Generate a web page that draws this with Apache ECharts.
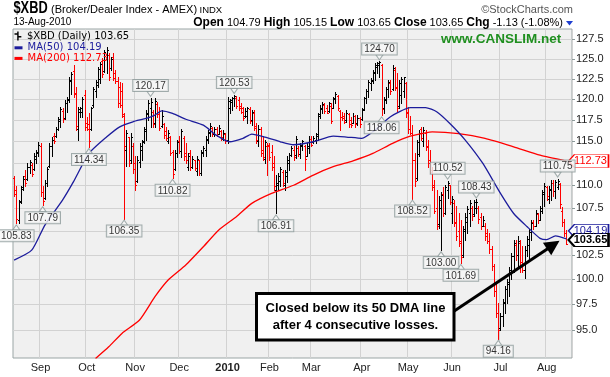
<!DOCTYPE html>
<html>
<head>
<meta charset="utf-8">
<script src="https://cdn.jsdelivr.net/npm/echarts@6.0.0/dist/echarts.min.js"></script>
<style>
  html, body { margin: 0; padding: 0; background: #fff; }
  #chart { width: 610px; height: 377px; }
</style>
</head>
<body>
<div id="chart"></div>
<script>
// $XBD daily bars, 14-Aug-2009 .. 13-Aug-2010
const opens = [
  110.8, 109.5, 106.2, 108.3, 109.8, 111.0, 110.7, 112.0, 112.3, 111.8,
  113.0, 113.6, 114.5, 109.3, 108.6, 110.2, 112.2, 114.4, 115.6, 115.6,
  116.4, 117.4, 118.6, 117.8, 119.5, 119.9, 122.2, 123.5, 120.8, 116.5,
  118.5, 118.5, 120.5, 117.2, 117.0, 116.5, 119.3, 121.0, 121.8, 122.5,
  124.8, 123.5, 125.0, 125.5, 123.8, 125.3, 123.2, 122.3, 121.5, 121.0,
  118.0, 114.0, 115.5, 112.8, 114.5, 112.5, 110.5, 112.6, 114.0, 115.0,
  116.2, 118.2, 119.0, 118.5, 117.2, 119.4, 118.5, 116.8, 117.0, 116.2,
  115.0, 115.5, 113.8, 111.8, 113.6, 115.0, 113.9, 115.4, 113.6, 112.0,
  113.6, 112.0, 112.8, 111.6, 112.8, 111.4, 113.6, 114.0, 115.2, 116.0,
  116.6, 115.8, 116.5, 115.9, 116.2, 115.3, 115.8, 115.2, 119.0, 119.7,
  120.1, 120.2, 119.9, 119.2, 118.9, 118.0, 118.0, 118.8, 117.5, 118.4,
  116.8, 115.0, 116.5, 114.0, 113.0, 114.4, 114.5, 113.8, 112.5, 109.5,
  110.0, 110.5, 111.5, 110.0, 111.0, 112.5, 113.4, 114.0, 113.4, 114.2,
  113.5, 114.5, 114.5, 113.3, 114.2, 115.3, 114.9, 115.2, 115.6, 118.2,
  118.8, 119.3, 118.9, 118.6, 119.2, 119.0, 120.1, 120.4, 118.6, 117.9,
  118.0, 117.5, 118.2, 117.5, 117.2, 118.0, 117.1, 117.7, 117.6, 118.8,
  120.2, 121.0, 122.0, 122.3, 123.2, 124.0, 124.2, 124.3, 118.9, 120.0,
  121.2, 122.0, 121.2, 123.6, 121.5, 119.2, 120.5, 121.0, 122.0, 118.5,
  116.5, 116.0, 112.8, 110.8, 113.5, 116.5, 115.0, 116.0, 114.5, 112.8,
  111.5, 110.0, 107.5, 105.8, 107.5, 109.0, 107.0, 109.5, 110.0, 107.0,
  108.0, 106.0, 105.0, 104.0, 102.5, 105.0, 106.0, 107.0, 107.5, 106.8,
  107.5, 107.5, 106.5, 105.6, 105.5, 104.8, 104.0, 103.1, 101.4, 98.8,
  96.7, 95.2, 96.4, 97.6, 99.0, 99.5, 101.0, 102.4, 103.5, 102.5,
  103.8, 101.8, 101.0, 103.0, 103.5, 104.9, 106.0, 105.5, 106.8, 106.2,
  107.2, 109.0, 109.8, 108.5, 109.5, 110.2, 109.4, 109.8, 110.1, 107.2,
  106.0, 104.79
];
const highs = [
  110.98, 109.87, 108.4, 109.87, 110.98, 111.73, 112.49, 112.87, 112.49, 113.63,
  114.0, 114.97, 114.78, 109.87, 110.6, 112.1, 114.8, 115.56, 115.95, 116.73,
  117.92, 119.1, 118.9, 119.9, 120.3, 122.78, 123.4, 124.2, 121.55, 119.1,
  119.1, 120.3, 121.14, 117.9, 118.3, 119.1, 121.55, 122.37, 124.0, 124.66,
  125.08, 126.14, 126.57, 125.7, 125.3, 125.7, 123.6, 122.78, 122.16, 121.96,
  118.3, 116.34, 115.56, 115.95, 114.78, 113.25, 113.25, 114.78, 115.17, 116.73,
  118.7, 119.9, 120.17, 118.7, 120.1, 119.7, 119.1, 118.7, 117.1, 116.7,
  116.3, 115.6, 114.0, 114.0, 115.2, 115.6, 116.5, 115.6, 114.8, 113.6,
  114.0, 113.25, 112.9, 113.25, 112.9, 114.0, 114.4, 115.6, 116.3, 117.1,
  116.7, 116.7, 116.7, 116.9, 116.3, 116.3, 115.95, 120.3, 120.0, 120.3,
  120.53, 120.4, 120.3, 119.5, 119.1, 118.9, 119.1, 119.1, 118.7, 118.7,
  117.1, 116.9, 116.7, 115.6, 115.2, 114.8, 114.8, 114.6, 113.25, 111.2,
  111.4, 112.1, 111.7, 111.7, 113.25, 113.6, 114.4, 114.4, 115.6, 114.4,
  114.8, 115.2, 114.6, 114.8, 115.6, 115.6, 115.6, 115.95, 118.3, 119.3,
  119.7, 119.5, 119.3, 119.7, 119.5, 120.3, 120.9, 120.5, 118.7, 118.5,
  118.3, 118.7, 118.3, 117.9, 118.3, 118.1, 118.1, 117.9, 118.9, 120.3,
  121.3, 122.4, 122.6, 123.6, 124.45, 124.66, 124.70, 124.4, 120.3, 121.55,
  122.37, 122.37, 124.2, 124.0, 123.2, 122.4, 122.8, 122.8, 122.16, 119.1,
  118.0, 116.9, 113.6, 115.2, 116.3, 116.7, 116.7, 116.3, 115.2, 114.0,
  112.1, 110.6, 109.5, 108.8, 109.2, 109.8, 110.0, 110.52, 110.0, 108.8,
  108.4, 107.7, 106.9, 106.2, 105.5, 106.9, 107.7, 108.4, 107.7, 108.4,
  108.43, 107.7, 106.9, 106.6, 105.9, 105.2, 104.8, 103.4, 101.6, 99.5,
  97.6, 96.7, 98.0, 99.3, 100.0, 101.3, 102.7, 104.1, 104.1, 104.45,
  104.1, 103.4, 103.4, 104.45, 105.2, 106.2, 106.2, 107.3, 106.9, 107.7,
  109.5, 110.2, 109.9, 109.9, 110.6, 110.6, 110.6, 110.75, 110.3, 107.6,
  106.3, 105.15
];
const lows = [
  108.76, 105.83, 105.9, 108.0, 109.5, 109.87, 110.6, 111.36, 110.98, 111.73,
  112.5, 113.25, 108.76, 107.79, 108.5, 109.9, 112.1, 113.25, 114.78, 115.5,
  116.34, 116.73, 117.32, 117.6, 118.5, 119.7, 120.7, 120.3, 116.34, 115.17,
  117.9, 117.9, 116.34, 116.34, 114.34, 116.34, 119.1, 120.3, 121.55, 121.96,
  122.78, 123.3, 123.2, 122.37, 123.6, 122.37, 121.96, 119.1, 119.1, 117.92,
  106.35, 112.11, 112.11, 112.49, 111.36, 109.5, 110.4, 112.1, 112.87, 114.78,
  115.17, 117.5, 116.73, 116.7, 116.7, 117.9, 116.3, 116.7, 115.4, 115.2,
  114.8, 113.4, 110.82, 111.7, 113.2, 113.6, 113.2, 112.9, 112.5, 111.7,
  111.7, 111.9, 111.7, 111.2, 111.2, 111.2, 113.25, 113.25, 114.8, 115.6,
  115.6, 115.6, 115.6, 115.8, 115.2, 115.2, 114.8, 114.8, 118.3, 118.7,
  119.2, 118.9, 118.7, 118.3, 117.5, 117.9, 117.1, 117.1, 116.9, 116.3,
  114.8, 114.4, 113.25, 112.9, 112.5, 111.2, 112.9, 111.7, 109.5, 106.91,
  109.5, 109.9, 109.9, 109.5, 110.4, 111.7, 113.25, 112.9, 113.1, 113.25,
  113.1, 114.0, 111.73, 113.25, 113.6, 114.4, 114.8, 114.8, 115.2, 117.7,
  118.3, 118.3, 118.3, 118.5, 117.1, 118.9, 119.5, 118.7, 116.3, 117.5,
  117.1, 117.3, 116.7, 116.7, 117.1, 116.7, 116.9, 116.7, 117.5, 118.7,
  119.5, 120.3, 121.1, 122.0, 122.4, 123.2, 122.8, 118.06, 118.3, 119.5,
  120.3, 120.7, 121.1, 121.1, 118.5, 119.0, 119.5, 120.3, 117.9, 116.0,
  115.8, 108.52, 109.87, 110.6, 113.25, 115.2, 114.4, 114.0, 112.1, 111.4,
  109.5, 106.9, 105.2, 105.3, 103.0, 106.6, 106.8, 108.6, 107.9, 105.9,
  105.5, 104.1, 103.4, 101.69, 102.3, 104.1, 104.8, 105.5, 106.2, 106.6,
  106.9, 105.9, 105.2, 105.5, 104.1, 103.75, 102.7, 101.0, 98.3, 96.3,
  94.16, 95.0, 95.4, 96.7, 97.6, 98.3, 100.0, 100.7, 102.0, 101.3,
  100.7, 100.7, 100.1, 102.4, 102.0, 104.1, 105.2, 105.5, 105.9, 106.2,
  106.95, 107.7, 108.4, 108.0, 108.4, 108.8, 108.6, 109.6, 107.5, 105.6,
  104.5, 103.65
];
const closes = [
  109.0, 106.3, 108.1, 109.6, 110.7, 110.2, 112.1, 112.6, 111.3, 113.3,
  113.8, 114.6, 109.2, 108.3, 110.3, 111.8, 114.5, 115.2, 115.0, 116.5,
  117.6, 118.8, 117.6, 119.6, 120.0, 122.4, 123.1, 120.6, 116.8, 118.8,
  119.0, 120.0, 116.7, 116.5, 115.0, 118.9, 121.3, 122.1, 123.7, 124.4,
  123.1, 125.9, 126.2, 122.7, 125.0, 122.6, 122.2, 119.5, 119.3, 118.2,
  114.5, 116.0, 112.5, 115.5, 111.8, 110.0, 112.8, 114.5, 114.9, 116.5,
  118.4, 119.6, 119.7, 117.0, 119.8, 118.2, 116.6, 118.0, 115.7, 115.4,
  116.0, 113.7, 111.3, 113.6, 114.9, 113.9, 116.2, 113.3, 112.8, 113.3,
  112.0, 113.0, 111.9, 113.0, 111.4, 113.8, 114.2, 115.3, 116.1, 116.8,
  115.8, 116.5, 115.9, 116.6, 115.5, 116.0, 115.0, 119.8, 119.9, 120.2,
  120.45, 119.2, 119.0, 118.5, 117.8, 118.6, 118.9, 117.4, 118.5, 116.6,
  115.1, 116.5, 113.6, 113.2, 114.9, 114.6, 113.2, 112.0, 109.9, 110.2,
  111.0, 111.8, 110.3, 111.5, 112.9, 113.4, 114.2, 113.2, 115.3, 113.5,
  114.6, 115.0, 113.0, 114.5, 115.3, 114.6, 115.4, 115.8, 118.0, 119.0,
  119.4, 118.6, 118.4, 119.5, 117.4, 120.0, 120.7, 119.0, 117.9, 117.7,
  117.3, 118.4, 117.0, 116.9, 118.0, 117.0, 117.8, 117.0, 118.7, 120.1,
  121.0, 122.1, 122.4, 123.3, 124.2, 124.5, 124.6, 118.8, 119.9, 121.3,
  122.1, 121.0, 123.8, 121.4, 118.9, 122.0, 122.5, 122.7, 118.4, 116.4,
  116.0, 112.9, 110.5, 114.9, 116.0, 115.4, 116.3, 114.3, 112.5, 111.7,
  109.8, 107.2, 105.6, 108.4, 108.9, 107.0, 109.8, 110.2, 108.1, 108.5,
  105.9, 104.5, 103.8, 102.3, 105.2, 106.5, 107.4, 108.0, 106.6, 108.1,
  108.2, 106.3, 105.6, 106.2, 104.5, 104.0, 103.1, 101.4, 98.8, 96.7,
  95.0, 96.4, 97.7, 99.0, 99.7, 101.0, 102.4, 103.8, 102.5, 104.0,
  101.5, 101.0, 103.0, 104.2, 104.9, 105.9, 105.5, 107.0, 106.2, 107.5,
  109.2, 109.9, 108.8, 109.6, 110.3, 109.4, 110.4, 110.5, 107.9, 106.0,
  104.78, 103.65
];

// moving averages as [bar index, value]
const ma50 = [
  [0, 101.97], [8, 103.0], [14, 105.65], [22, 108.36], [27, 110.4], [34, 113.6],
  [42, 115.5], [48, 116.7], [54, 117.3], [60, 117.7], [64, 118.1], [67, 118.6],
  [72, 118.3], [78, 117.6], [86, 116.9], [92, 115.7], [98, 114.95], [104, 115.35],
  [108, 115.85], [114, 115.5], [121, 114.95], [127, 114.6], [136, 114.95], [145, 115.6],
  [151, 115.5], [158, 115.35], [164, 116.3], [171, 117.9], [180, 118.98], [187, 119.0],
  [192, 118.5], [198, 117.1], [205, 115.15], [213, 112.45], [221, 109.1], [227, 106.9],
  [233, 105.5], [239, 104.24], [242, 104.1], [246, 104.5], [251, 104.19]
];
const ma200 = [
  [37, 92.3], [43, 93.4], [49, 94.68], [57, 95.97], [64, 98.26], [70, 99.93],
  [78, 101.46], [86, 103.36], [93, 105.13], [101, 106.55], [108, 108.0], [117, 109.1],
  [127, 110.0], [136, 111.14], [145, 112.08], [154, 112.75], [163, 113.6], [172, 114.76],
  [180, 115.6], [187, 116.0], [190, 116.1], [202, 115.9], [214, 115.35], [227, 114.37],
  [239, 113.4], [251, 112.73]
];

// swing high / low call-outs
const lowIdx = [1, 13, 34, 50, 72, 119, 167, 181, 194, 203, 220];
const lowVal = [105.83, 107.79, 114.34, 106.35, 110.82, 106.91, 118.06, 108.52, 103.00, 101.69, 94.16];
const highIdx = [62, 100, 166, 197, 210, 247];
const highVal = [120.17, 120.53, 124.70, 110.52, 108.43, 110.75];

const yTicks = [95, 97.5, 100, 102.5, 105, 107.5, 110, 112.5, 115, 117.5, 120, 122.5, 125, 127.5];
const monthNames = ['Jan', 'Feb', 'Mar', 'Apr', 'May', 'Jun', 'Jul', 'Aug', 'Sep', 'Oct', 'Nov', 'Dec'];
const marketHolidays = ['2009-09-07', '2009-11-26', '2009-12-25', '2010-01-01', '2010-01-18',
  '2010-02-15', '2010-04-02', '2010-05-31', '2010-07-05'];

const hdrOpen = 104.79, hdrHigh = 105.15, hdrLow = 103.65, hdrClose = 103.65;
const hdrChg = -1.13, hdrChgPct = -1.08;
const noteLines = ['Closed below its 50 DMA line', 'after 4 consecutive losses.'];

// trading calendar
const barDates = (function () {
  const out = [];
  const d = new Date(Date.UTC(2009, 7, 14));
  const end = Date.UTC(2010, 7, 13);
  while (d.getTime() <= end) {
    const wd = d.getUTCDay();
    const s = d.toISOString().slice(0, 10);
    if (wd !== 0 && wd !== 6 && marketHolidays.indexOf(s) < 0) out.push(s);
    d.setUTCDate(d.getUTCDate() + 1);
  }
  return out;
})();
const cats = barDates.concat([' ', '  ']); // small empty margin on the right

const monthStart = cats.map(function (c, i) {
  if (i === 0 || i >= barDates.length) return false;
  return c.slice(5, 7) !== cats[i - 1].slice(5, 7);
});

const lastClose = closes[closes.length - 1];
const ma50Last = ma50[ma50.length - 1][1];
const ma200Last = ma200[ma200.length - 1][1];
const nameXBD = '$XBD (Daily) ' + lastClose.toFixed(2);
const nameMA50 = 'MA(50) ' + ma50Last.toFixed(2);
const nameMA200 = 'MA(200) ' + ma200Last.toFixed(2);

const RED = '#ff0000', NAVY = '#1c1c9c';
const barColors = closes.map(function (c, i) {
  const ref = i === 0 ? opens[0] : closes[i - 1];
  return c < ref ? RED : '#000';
});
const ohlc = closes.map(function (c, i) { return [i, opens[i], highs[i], lows[i], c]; });

const chart = echarts.init(document.getElementById('chart'));

const calloutLabel = {
  show: true,
  formatter: function (p) { return p.value[1].toFixed(2); },
  fontFamily: 'Liberation Sans',
  fontSize: 10,
  color: '#000',
  backgroundColor: '#f8f8f8',
  borderColor: '#8c9a9a',
  borderWidth: 1,
  padding: [1, 2, 0, 2],
  distance: 0
};

const tagSymbol = 'path://M0,6 L6,0 L40,0 L40,12 L6,12 Z';

chart.setOption({
  animation: false,
  backgroundColor: '#fff',
  textStyle: { fontFamily: 'Liberation Sans' },
  grid: {
    left: 13, top: 29, right: 38, bottom: 19,
    show: true, backgroundColor: '#f0f0f0', borderColor: '#9aa5a5', borderWidth: 1
  },
  legend: [
    {
      data: [{ name: nameXBD, icon: 'path://M3,0h1.6v10h-1.6z M0,2h3v1.6h-3z M4.6,5h3v1.6h-3z', textStyle: { color: '#000' } }],
      left: 14.5, top: 31, padding: 0, itemWidth: 8, itemHeight: 9, selectedMode: false,
      textStyle: { fontFamily: 'DejaVu Sans', fontSize: 10 }
    },
    {
      data: [{ name: nameMA50, textStyle: { color: NAVY } }, { name: nameMA200, textStyle: { color: RED } }],
      orient: 'vertical', left: 14.5, top: 42.5, padding: 0, itemGap: 0,
      itemWidth: 8, itemHeight: 3, icon: 'rect', selectedMode: false,
      textStyle: { fontFamily: 'DejaVu Sans', fontSize: 10, lineHeight: 10.6 }
    }
  ],
  xAxis: {
    type: 'category',
    data: cats,
    boundaryGap: true,
    axisLine: { show: false },
    axisTick: { show: false },
    axisLabel: {
      interval: function (i) { return monthStart[i]; },
      formatter: function (v) {
        const m = parseInt(v.slice(5, 7), 10) - 1;
        return m === 0 ? '{y|' + v.slice(0, 4) + '}' : monthNames[m];
      },
      rich: { y: { fontWeight: 'bold', fontSize: 11, color: '#222' } },
      margin: 4, fontSize: 11, color: '#222'
    },
    splitLine: {
      show: true,
      interval: function (i) { return monthStart[i]; },
      lineStyle: { color: '#d2d2d2', width: 1 }
    }
  },
  yAxis: {
    type: 'log',
    logBase: 10,
    position: 'right',
    min: 92.35,
    max: 128.85,
    axisLine: { show: false },
    axisTick: { show: true, length: 3, customValues: yTicks, lineStyle: { color: '#8c9a9a' } },
    axisLabel: {
      customValues: yTicks,
      formatter: function (v) { return v.toFixed(1); },
      margin: 4, fontSize: 11, color: '#222'
    },
    splitLine: { show: true, lineStyle: { color: '#d2d2d2', width: 1 } }
  },
  series: [
    {
      name: nameXBD,
      type: 'custom',
      itemStyle: { color: '#000' },
      encode: { x: 0, y: [1, 2, 3, 4] },
      data: ohlc,
      z: 2,
      renderItem: function (params, api) {
        const i = api.value(0);
        const pO = api.coord([i, api.value(1)]);
        const pH = api.coord([i, api.value(2)]);
        const pL = api.coord([i, api.value(3)]);
        const pC = api.coord([i, api.value(4)]);
        const xc = Math.round(pH[0]);
        const x = xc + 0.5;
        const yo = Math.round(pO[1]) + 0.5;
        const yc = Math.round(pC[1]) + 0.5;
        const st = { stroke: barColors[params.dataIndex], lineWidth: 1 };
        return {
          type: 'group',
          children: [
            { type: 'line', shape: { x1: x, y1: Math.round(pH[1]), x2: x, y2: Math.round(pL[1]) + 1 }, style: st },
            { type: 'line', shape: { x1: xc - 1, y1: yo, x2: xc, y2: yo }, style: st },
            { type: 'line', shape: { x1: xc + 1, y1: yc, x2: xc + 2, y2: yc }, style: st }
          ]
        };
      }
    },
    {
      name: nameMA200,
      type: 'line',
      data: ma200,
      showSymbol: false,
      smooth: 0.2,
      color: RED,
      lineStyle: { color: RED, width: 1.3 },
      z: 3,
      markPoint: {
        silent: true,
        symbol: tagSymbol,
        symbolSize: [40, 13],
        data: [{
          coord: [251, ma200Last], symbolOffset: [22, 0],
          itemStyle: { color: '#fff', borderColor: RED, borderWidth: 1 },
          label: { show: true, formatter: ma200Last.toFixed(2), color: RED, fontSize: 11, offset: [2, 0] }
        }]
      }
    },
    {
      name: nameMA50,
      type: 'line',
      data: ma50,
      showSymbol: false,
      smooth: 0.2,
      color: NAVY,
      lineStyle: { color: NAVY, width: 1.3 },
      z: 3,
      markPoint: {
        silent: true,
        symbol: tagSymbol,
        symbolSize: [40, 13],
        data: [
          {
            coord: [251, ma50Last], symbolOffset: [22, -8],
            itemStyle: { color: '#fff', borderColor: NAVY, borderWidth: 1 },
            label: { show: true, formatter: ma50Last.toFixed(2), color: NAVY, fontSize: 11, offset: [2, 0] }
          },
          {
            coord: [251, lastClose], symbolOffset: [22, -4],
            itemStyle: { color: '#fff', borderColor: '#000', borderWidth: 1.5 },
            label: { show: true, formatter: lastClose.toFixed(2), color: '#000', fontWeight: 'bold', fontSize: 11, offset: [2, 0] }
          }
        ]
      },
      markLine: {
        silent: true,
        animation: false,
        label: { show: false },
        lineStyle: { color: '#000', width: 3, type: 'solid' },
        data: [[
          { coord: [200, 96.85], symbol: 'none' },
          { coord: [245, 103.55], symbol: 'triangle', symbolSize: 15 }
        ]]
      }
    },
    {
      type: 'scatter',
      data: lowIdx.map(function (x, k) { return [x, lowVal[k]]; }),
      symbol: 'triangle',
      symbolSize: [7, 5],
      symbolOffset: [0, 4],
      itemStyle: { color: '#f8f8f8', borderColor: '#8c9a9a', borderWidth: 1 },
      label: Object.assign({ position: 'bottom' }, calloutLabel),
      z: 5
    },
    {
      type: 'scatter',
      data: highIdx.map(function (x, k) { return [x, highVal[k]]; }),
      symbol: 'path://M0,0 L10,0 L5,7 Z',
      symbolSize: [7, 5],
      symbolOffset: [0, -4],
      itemStyle: { color: '#f8f8f8', borderColor: '#8c9a9a', borderWidth: 1 },
      label: Object.assign({ position: 'top' }, calloutLabel),
      z: 5
    }
  ],
  graphic: [
    { type: 'text', x: 13.5, y: 9, scaleX: 0.8, z: 100, style: { text: '$XBD', font: "bold 16px 'Liberation Sans'", fill: '#000', verticalAlign: 'middle', textVerticalAlign: 'middle' } },
    { type: 'text', x: 51, y: 9.5, z: 100, style: { text: '(Broker/Dealer Index - AMEX)', font: "11px 'Liberation Sans'", fill: '#000', verticalAlign: 'middle', textVerticalAlign: 'middle' } },
    { type: 'text', x: 199.5, y: 10, z: 100, style: { text: 'INDX', font: "9.5px 'Liberation Sans'", fill: '#000', verticalAlign: 'middle', textVerticalAlign: 'middle' } },
    { type: 'text', x: 13.5, y: 22.7, z: 100, style: { text: '13-Aug-2010', font: "10px 'Liberation Sans'", fill: '#000', verticalAlign: 'middle', textVerticalAlign: 'middle' } },
    {
      type: 'text', x: 563, y: 22.7, z: 100,
      style: {
        text: '{b|Open} ' + hdrOpen.toFixed(2) + ' {b|High} ' + hdrHigh.toFixed(2) + ' {b|Low} ' + hdrLow.toFixed(2) +
          ' {b|Close} ' + hdrClose.toFixed(2) + ' {b|Chg} ' + hdrChg.toFixed(2) + ' (' + hdrChgPct.toFixed(2) + '%)',
        font: "11px 'Liberation Sans'", fill: '#000',
        align: 'right', textAlign: 'right', verticalAlign: 'middle', textVerticalAlign: 'middle',
        rich: { b: { font: "bold 12px 'Liberation Sans'", fill: '#000' } }
      }
    },
    { type: 'polygon', z: 100, shape: { points: [[566, 21], [573, 21], [569.5, 25.5]] }, style: { fill: '#1f3fd0' } },
    { type: 'text', x: 573, y: 9.7, z: 100, style: { text: '\u00a9StockCharts.com', font: "11px 'Liberation Sans'", fill: '#555', align: 'right', textAlign: 'right', verticalAlign: 'middle', textVerticalAlign: 'middle' } },
    { type: 'text', x: 441, y: 39.5, z: 100, style: { text: 'www.CANSLIM.net', font: "bold 13.5px 'Liberation Sans'", fill: '#1f8f1f', verticalAlign: 'middle', textVerticalAlign: 'middle' } },
    { type: 'rect', z: 100, shape: { x: 256.5, y: 293.5, width: 197.5, height: 46.5 }, style: { fill: '#fff', stroke: '#000', lineWidth: 3 } },
    { type: 'text', x: 355.5, y: 308, z: 101, style: { text: noteLines[0], font: "bold 13px 'Liberation Sans'", fill: '#000', align: 'center', textAlign: 'center', verticalAlign: 'middle', textVerticalAlign: 'middle' } },
    { type: 'text', x: 355.5, y: 325.5, z: 101, style: { text: noteLines[1], font: "bold 13px 'Liberation Sans'", fill: '#000', align: 'center', textAlign: 'center', verticalAlign: 'middle', textVerticalAlign: 'middle' } }
  ]
});
</script>
</body>
</html>
